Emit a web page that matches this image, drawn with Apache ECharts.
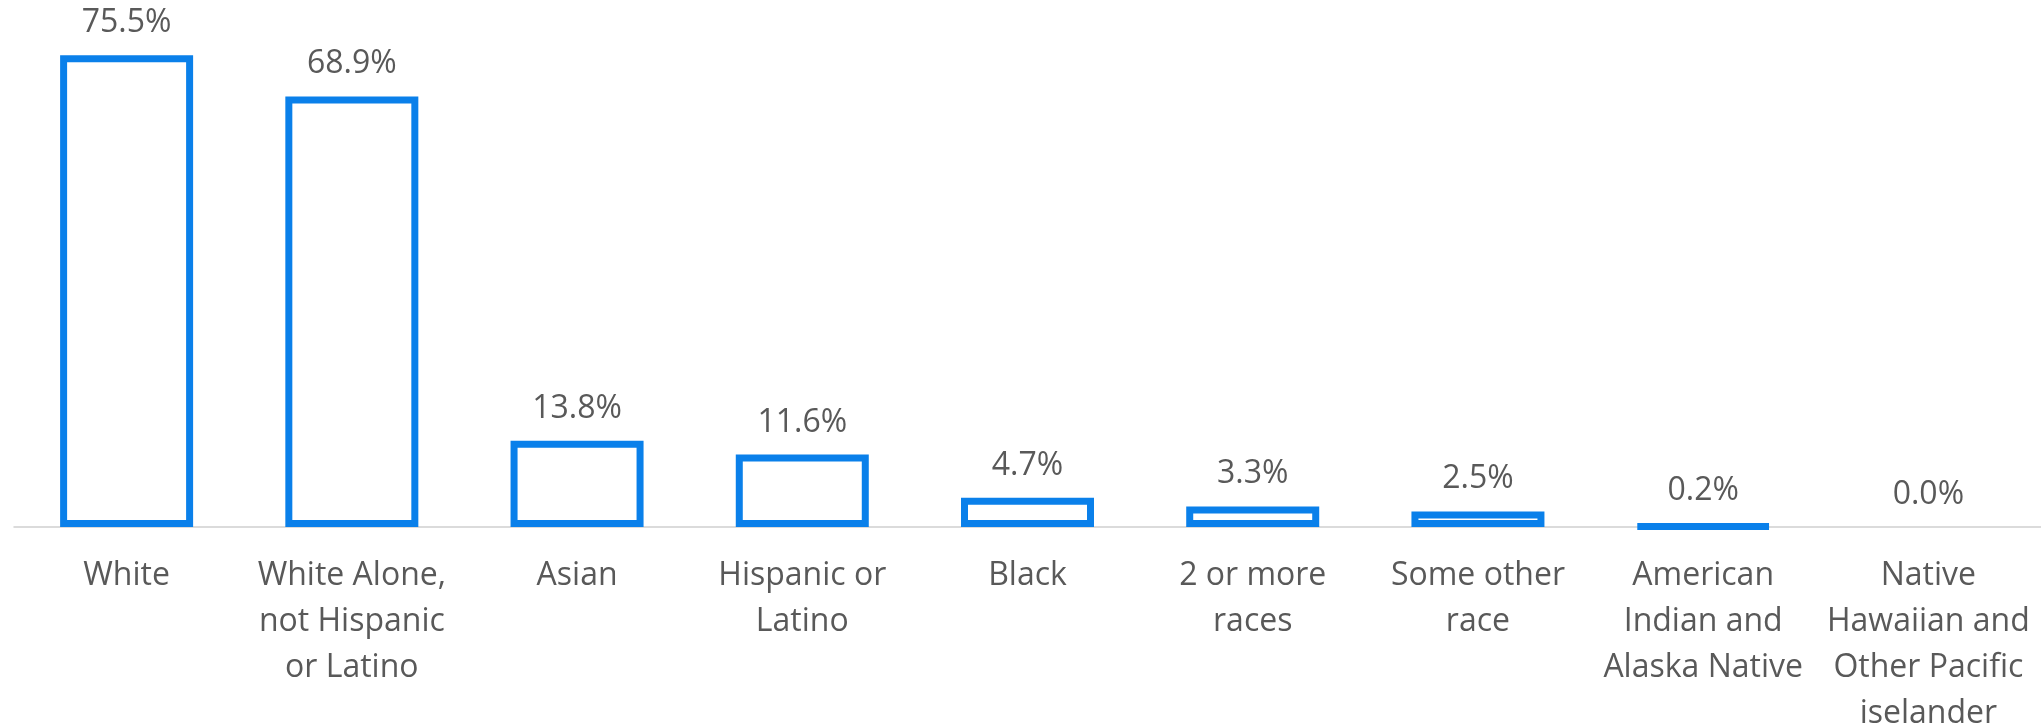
<!DOCTYPE html>
<html>
<head>
<meta charset="utf-8">
<title>Race breakdown</title>
<script src="https://cdn.jsdelivr.net/npm/echarts@6/dist/echarts.min.js"></script>
<style>
	html, body { margin: 0; padding: 0; background: #fff; }
	#chartWrap { width: 2041px; height: 726px; }
</style>
</head>
<body>
<div id="chartWrap"></div>
<script>
// categories (line breaks as in the original axis labels)
var categories = [
	'White',
	'White Alone,\nnot Hispanic\nor Latino',
	'Asian',
	'Hispanic or\nLatino',
	'Black',
	'2 or more\nraces',
	'Some other\nrace',
	'American\nIndian and\nAlaska Native',
	'Native\nHawaiian and\nOther Pacific\niselander'
];
// share of population, %
var shares = [75.5, 68.9, 13.8, 11.6, 4.7, 3.3, 2.5, 0.2, 0.0];

var textColor = '#595959';
var barColor = '#0a80ea';
var fontFam = '"Open Sans", "Noto Sans", sans-serif';

// a zero bar has no outline in the original
var barData = shares.map(function(v){
	return v > 0 ? v : { value: v, itemStyle: { borderWidth: 0, color: 'rgba(0,0,0,0)' } };
});

var myChart = echarts.init(document.getElementById('chartWrap'));

var dataOption = {
	animation: false,
	grid: {
		left: 14,
		right: 0,
		top: 27,
		bottom: 199,
		containLabel: false,
		outerBoundsMode: 'none'
	},
	xAxis: {
		type: 'category',
		data: categories,
		axisLine: { show: true, lineStyle: { color: '#d0d0d0', width: 1.5 } },
		axisTick: { show: false },
		axisLabel: {
			interval: 0,
			margin: 26,
			color: textColor,
			fontSize: 32,
			lineHeight: 46,
			fontFamily: fontFam
		}
	},
	yAxis: {
		type: 'value',
		min: 0,
		max: 80,
		show: false,
		splitLine: { show: false }
	},
	series: [
		{
			type: 'bar',
			data: barData,
			barWidth: 133,
			itemStyle: {
				color: '#ffffff',
				borderColor: barColor,
				borderWidth: 7
			},
			label: {
				show: true,
				position: 'top',
				distance: 16,
				color: textColor,
				fontSize: 32,
				lineHeight: 32,
				fontFamily: fontFam,
				formatter: function(p){
					return p.value.toFixed(1) + '%';
				}
			}
		}
	]
};

myChart.setOption(dataOption);
</script>
</body>
</html>
